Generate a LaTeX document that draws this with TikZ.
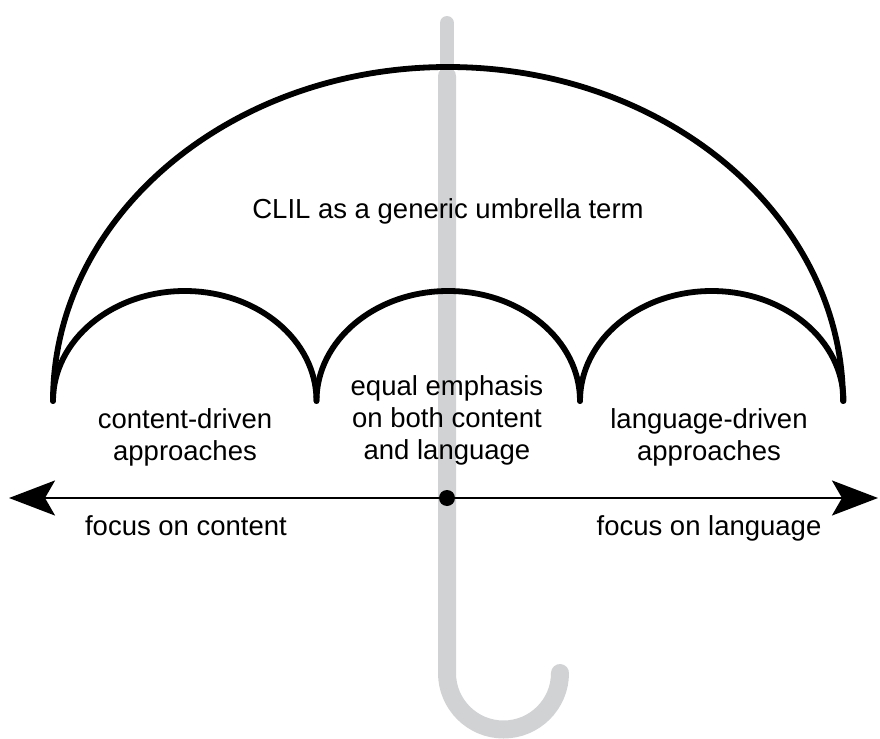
\documentclass[tikz,border=0pt]{standalone}
\usepackage{fontspec}
\setmainfont{Liberation Sans}
\usepackage{tikz}
\usetikzlibrary{arrows.meta}
\definecolor{handlegray}{RGB}{209,210,212}

\begin{document}
\begin{tikzpicture}[x=0.5pt, y=-0.5pt]
    \tikzstyle{term}=[font=\fontsize{13.75}{16}\selectfont, align=center, inner sep=0pt]
    \tikzstyle{canopy}=[line width=2.9pt, line cap=round, line join=round]
    \tikzstyle{handle}=[handlegray, line cap=round]
    \tikzstyle{axis}=[line width=1.2pt, {Stealth[length=23pt,width=17.5pt,inset=5pt]}-{Stealth[length=23pt,width=17.5pt,inset=5pt]}]
    \useasboundingbox (0,0) rectangle (880,739);
    % handle
    \draw[handle, line width=7pt] (447,23) -- (447,80);
    \draw[handle, line width=9pt] (447,76) -- (447,673)
      arc[start angle=180, end angle=0, radius=56.5];
    % canopy
    \draw[canopy] (53,401) arc[start angle=180, end angle=360, x radius=395, y radius=334];
    \foreach \i in {0,1,2}
      \draw[canopy] (53+263.5*\i,401) arc[start angle=180, end angle=360, x radius=131.75, y radius=110];
    % axis
    \coordinate (west) at (9,498);
    \coordinate (east) at (878,498);
    \draw[axis] (west) -- (east);
    \node[circle, fill, inner sep=0pt, minimum size=8pt] (mid) at (447,498) {};
    % labels
    \node[term, anchor=base] (clil) at (448,218) {CLIL as a generic umbrella term};
    \node[term] (content) at (185,437) {content-driven\\approaches};
    \node[term] (equal) at (447,420) {equal emphasis\\on both content\\and language};
    \node[term] (language) at (709,437) {language-driven\\approaches};
    \node[term, anchor=base] (fcontent) at (186,535) {focus on content};
    \node[term, anchor=base] (flanguage) at (709,535) {focus on language};
\end{tikzpicture}
\end{document}
